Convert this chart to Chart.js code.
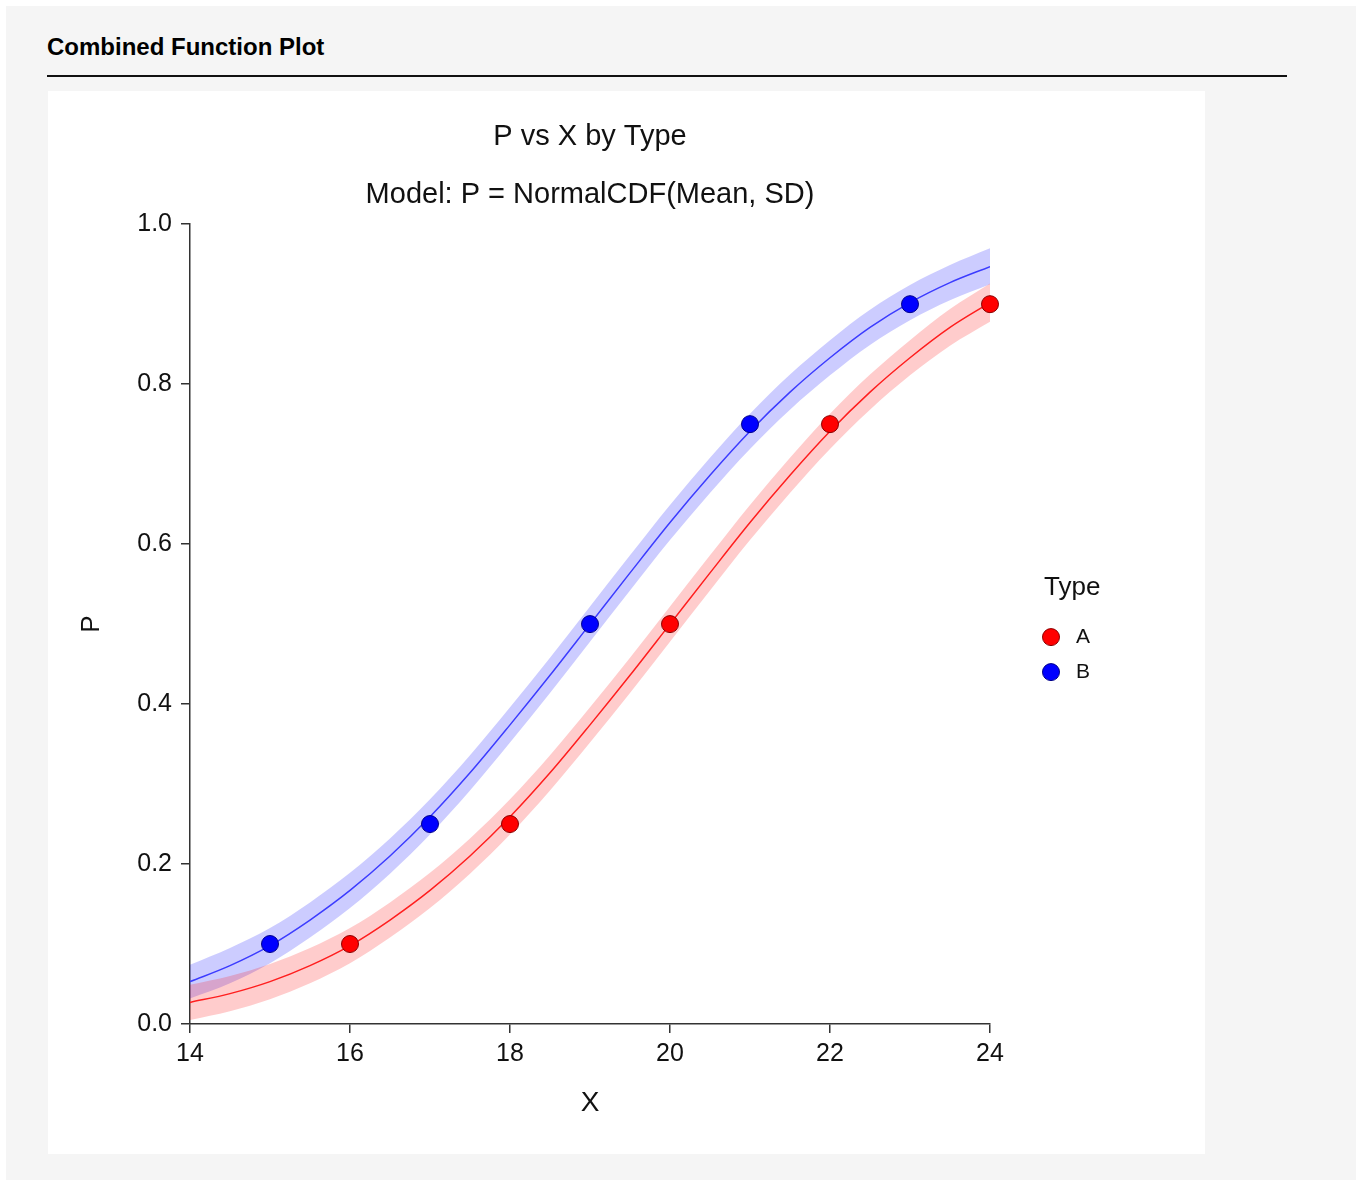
<!DOCTYPE html>
<html>
<head>
<meta charset="utf-8">
<script src="https://cdn.jsdelivr.net/npm/chart.js@4.4.1/dist/chart.umd.min.js"></script>
<style>
  html, body { margin: 0; padding: 0; background: #ffffff; }
  body { width: 1356px; height: 1180px; position: relative; overflow: hidden; font-family: "Liberation Sans", Arial, sans-serif; }
  #bg { position: absolute; left: 6px; top: 6px; width: 1350px; height: 1174px; background: #f5f5f5; }
  #head { position: absolute; left: 47px; top: 35px; font-size: 24px; line-height: 24px; font-weight: bold; color: #000; white-space: nowrap; }
  #rule { position: absolute; left: 47px; top: 75px; width: 1240px; height: 2px; background: #111; }
  #panel { position: absolute; left: 48px; top: 91px; width: 1157px; height: 1063px; background: #ffffff; }
  #c { position: absolute; left: 0; top: 0; }
</style>
</head>
<body>
<div id="bg"></div>
<div id="head">Combined Function Plot</div>
<div id="rule"></div>
<div id="panel"><canvas id="c" width="1157" height="1063"></canvas></div>
<script>
// ---- data ----
const groupNames = ["A", "B"];
const xTicks = [14, 16, 18, 20, 22, 24];
const yTicks = [0.0, 0.2, 0.4, 0.6, 0.8, 1.0];

// observed points
const pointsAX = [16, 18, 20, 22, 24];
const pointsAP = [0.10, 0.25, 0.50, 0.75, 0.90];
const pointsBX = [15, 17, 19, 21, 23];
const pointsBP = [0.10, 0.25, 0.50, 0.75, 0.90];

// fitted curve and band edges (read every 0.5 along X)
const curveX = [14, 14.5, 15, 15.5, 16, 16.5, 17, 17.5, 18, 18.5, 19, 19.5, 20, 20.5, 21, 21.5, 22, 22.5, 23, 23.5, 24];
const curveA = [0.027, 0.038, 0.053, 0.073, 0.098, 0.130, 0.167, 0.210, 0.259, 0.314, 0.374, 0.436, 0.500, 0.564, 0.627, 0.686, 0.741, 0.790, 0.833, 0.871, 0.902];
const upperA = [0.049, 0.060, 0.075, 0.095, 0.120, 0.152, 0.189, 0.232, 0.281, 0.336, 0.396, 0.458, 0.522, 0.586, 0.649, 0.708, 0.763, 0.812, 0.855, 0.894, 0.926];
const lowerA = [0.005, 0.016, 0.031, 0.051, 0.076, 0.108, 0.145, 0.188, 0.237, 0.292, 0.352, 0.414, 0.478, 0.542, 0.605, 0.664, 0.719, 0.768, 0.811, 0.848, 0.878];
const curveB = [0.053, 0.073, 0.098, 0.130, 0.167, 0.210, 0.259, 0.314, 0.374, 0.436, 0.500, 0.564, 0.627, 0.686, 0.741, 0.790, 0.833, 0.871, 0.902, 0.927, 0.947];
const upperB = [0.074, 0.095, 0.120, 0.152, 0.189, 0.232, 0.281, 0.336, 0.396, 0.458, 0.522, 0.586, 0.649, 0.708, 0.763, 0.812, 0.855, 0.893, 0.924, 0.949, 0.970];
const lowerB = [0.032, 0.051, 0.076, 0.108, 0.145, 0.188, 0.237, 0.292, 0.352, 0.414, 0.478, 0.542, 0.605, 0.664, 0.719, 0.768, 0.811, 0.849, 0.880, 0.905, 0.925];

// ---- helpers ----
const pts = (xs, ys) => xs.map((x, i) => ({x: x, y: ys[i]}));
const FONT = '"Liberation Sans", Arial, sans-serif';
const colA = '#ff0000', colB = '#0000ff';

const bandDs = (label, ys, fillTarget, bg) => ({
  type: 'line', label: label, data: pts(curveX, ys), borderWidth: 0, borderColor: 'rgba(0,0,0,0)',
  pointRadius: 0, pointHoverRadius: 0, fill: fillTarget, backgroundColor: bg,
  cubicInterpolationMode: 'monotone', order: 3
});
const curveDs = (label, ys, color) => ({
  type: 'line', label: label, data: pts(curveX, ys), borderWidth: 1.5, borderColor: color,
  pointRadius: 0, pointHoverRadius: 0, fill: false, cubicInterpolationMode: 'monotone', order: 2
});
const pointDs = (label, xs, ys, fillC, edgeC) => ({
  type: 'scatter', label: label, data: pts(xs, ys), backgroundColor: fillC, borderColor: edgeC,
  borderWidth: 1, pointRadius: 8.5, pointHoverRadius: 8.5, showLine: false, clip: false, order: 1
});

const datasets = [
  bandDs('A upper', upperA, '+1', 'rgba(255,0,0,0.2)'),
  bandDs('A lower', lowerA, false, 'rgba(255,0,0,0.2)'),
  bandDs('B upper', upperB, '+1', 'rgba(0,0,255,0.2)'),
  bandDs('B lower', lowerB, false, 'rgba(0,0,255,0.2)'),
  curveDs('A fit', curveA, 'rgb(255,30,30)'),
  curveDs('B fit', curveB, 'rgb(60,60,255)'),
  pointDs(groupNames[0], pointsAX, pointsAP, colA, '#8a0000'),
  pointDs(groupNames[1], pointsBX, pointsBP, colB, '#00008a')
];

// legend drawn next to the plot area, from the point datasets
const typeLegend = {
  id: 'typeLegend',
  afterDraw(chart) {
    const ctx = chart.ctx, ca = chart.chartArea;
    const cy = (ca.top + ca.bottom) / 2;
    const x0 = ca.right + 55;
    ctx.save();
    ctx.fillStyle = '#111';
    ctx.textBaseline = 'middle';
    ctx.textAlign = 'left';
    ctx.font = '26px ' + FONT;
    ctx.fillText('Type', x0 - 1, cy - 36);
    const items = chart.data.datasets.filter(d => groupNames.includes(d.label));
    items.forEach((d, i) => {
      const y = cy + 13 + i * 35;
      ctx.beginPath();
      ctx.arc(x0 + 6, y, 8.5, 0, Math.PI * 2);
      ctx.fillStyle = d.backgroundColor;
      ctx.fill();
      ctx.lineWidth = 1;
      ctx.strokeStyle = d.borderColor;
      ctx.stroke();
      ctx.fillStyle = '#111';
      ctx.font = '21px ' + FONT;
      ctx.fillText(d.label, x0 + 31, y);
    });
    ctx.restore();
  }
};

new Chart(document.getElementById('c'), {
  data: { datasets: datasets },
  options: {
    responsive: false,
    animation: false,
    events: [],
    layout: { padding: { left: 0, right: 215, top: 0, bottom: 0 } },
    plugins: {
      legend: { display: false },
      tooltip: { enabled: false },
      title: {
        display: true, text: 'P vs X by Type', fullSize: false, color: '#111',
        font: { family: FONT, size: 29, weight: 'normal' }, padding: { top: 29, bottom: 0 }
      },
      subtitle: {
        display: true, text: 'Model: P = NormalCDF(Mean, SD)', fullSize: false, color: '#111',
        font: { family: FONT, size: 29, weight: 'normal' }, padding: { top: 23, bottom: 11.6 }
      }
    },
    scales: {
      x: {
        type: 'linear', min: xTicks[0], max: xTicks[xTicks.length - 1],
        afterBuildTicks: s => { s.ticks = xTicks.map(v => ({value: v})); },
        ticks: { color: '#111', font: { family: FONT, size: 25 }, padding: 6, maxRotation: 0,
                 callback: v => String(v) },
        grid: { drawOnChartArea: false, drawTicks: true, tickLength: 9, color: '#333', lineWidth: 1.5 },
        border: { display: true, color: '#333', width: 1.5 },
        title: { display: true, text: 'X', color: '#111', font: { family: FONT, size: 28 }, padding: { top: 0, bottom: 34 } },
        afterFit: s => { s.height = 130; }
      },
      y: {
        type: 'linear', min: yTicks[0], max: yTicks[yTicks.length - 1],
        afterBuildTicks: s => { s.ticks = yTicks.map(v => ({value: v})); },
        ticks: { color: '#111', font: { family: FONT, size: 25 }, padding: 9,
                 callback: v => Number(v).toFixed(1) },
        grid: { drawOnChartArea: false, drawTicks: true, tickLength: 9, color: '#333', lineWidth: 1.5 },
        border: { display: true, color: '#333', width: 1.5 },
        title: { display: true, text: 'P', color: '#111', font: { family: FONT, size: 26 }, padding: { top: 28, bottom: 0 } },
        afterFit: s => { s.width = 142; }
      }
    }
  },
  plugins: [typeLegend]
});
</script>
</body>
</html>
